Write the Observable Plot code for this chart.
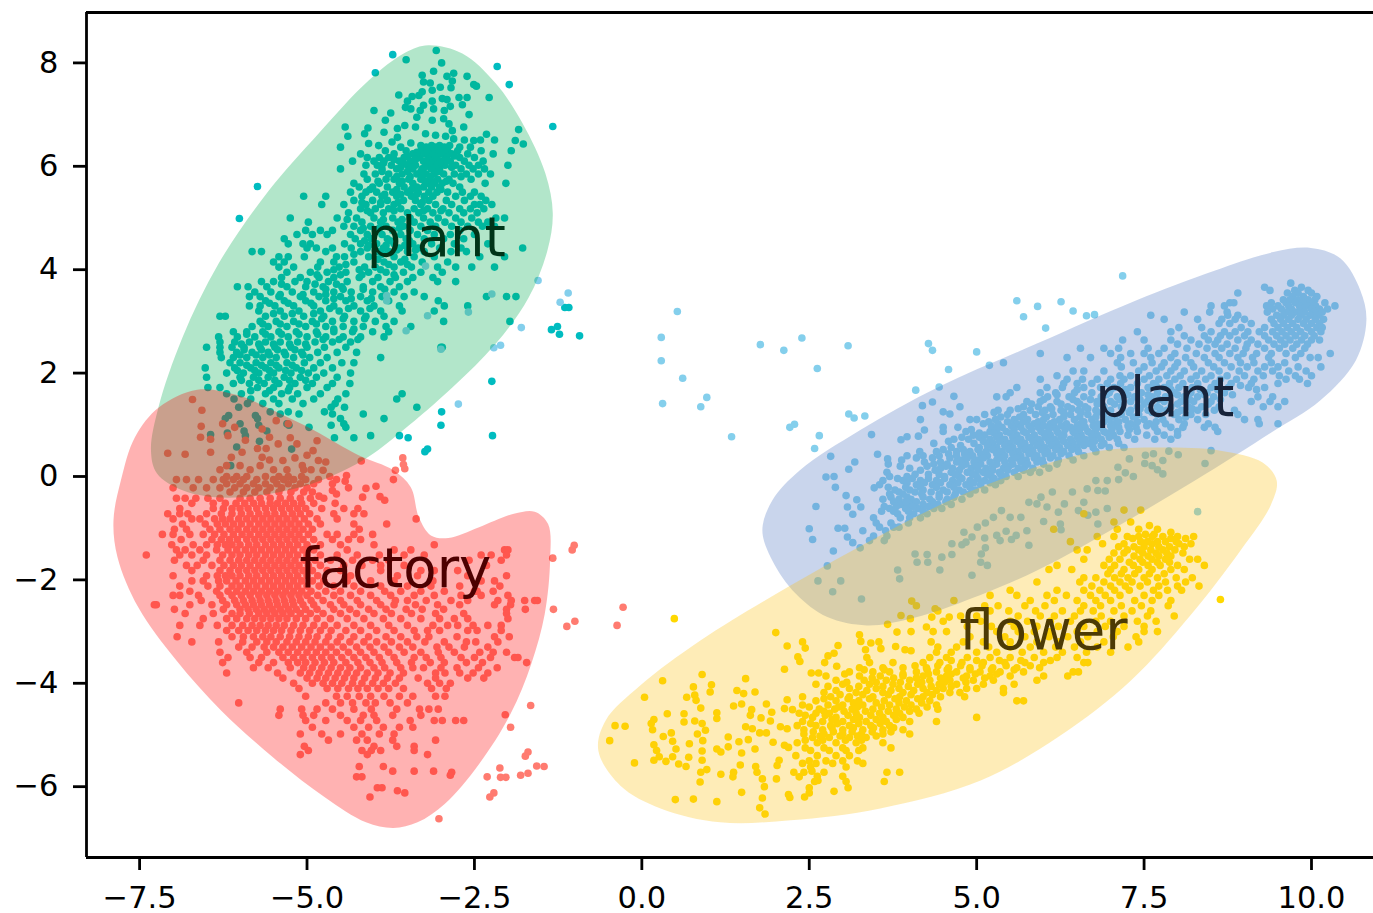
<!DOCTYPE html>
<html><head><meta charset="utf-8">
<script src="https://cdn.jsdelivr.net/npm/d3@7"></script>
<script src="https://cdn.jsdelivr.net/npm/@observablehq/plot@0.6"></script>
<style>html,body{margin:0;padding:0;background:#fff}svg{display:block}</style>
</head><body><div id="chart"></div>
<script>
const xDomain=[-8.293,10.926], yDomain=[-7.37,8.975];
const xTicks=[-7.5,-5,-2.5,0,2.5,5,7.5,10], yTicks=[-6,-4,-2,0,2,4,6,8];
const labels=[["plant",-3.07,4.6],["factory",-3.68,-1.8],["plant",7.81,1.51],["flower",6.0,-3.0]];

const greenBlob=[[-3.19,8.34],[-2.68,8.18],[-2.18,7.6],[-1.78,6.83],[-1.44,5.86],[-1.33,5.09],[-1.41,4.37],[-1.69,3.46],[-2.18,2.57],[-2.83,1.72],[-3.57,.89],[-4.17,.31],[-5.1,-.21],[-6.19,-.41],[-6.85,-.27],[-7.24,.06],[-7.33,.5],[-7.22,1.33],[-6.86,2.69],[-6.32,4.12],[-5.57,5.53],[-4.83,6.63],[-4.08,7.66],[-3.53,8.2]];
const redBlob=[[-6.64,1.68],[-6.03,1.57],[-5.51,1.28],[-4.89,.89],[-4.23,.41],[-3.71,.12],[-3.45,-.21],[-3.33,-.79],[-3.15,-1.14],[-2.89,-1.19],[-2.43,-.98],[-1.91,-.72],[-1.6,-.68],[-1.4,-.92],[-1.37,-1.62],[-1.45,-2.66],[-1.65,-3.62],[-1.96,-4.59],[-2.43,-5.56],[-2.94,-6.33],[-3.35,-6.69],[-3.71,-6.8],[-4.12,-6.69],[-4.74,-6.2],[-5.51,-5.43],[-6.28,-4.53],[-6.95,-3.56],[-7.52,-2.53],[-7.83,-1.56],[-7.89,-.85],[-7.78,-.08],[-7.57,.76],[-7.21,1.34]];
const blueBlob=[[9.99,4.42],[10.43,4.22],[10.73,3.6],[10.82,3.02],[10.66,2.24],[10.13,1.47],[9.4,.85],[8.26,-.08],[7.08,-.98],[5.9,-1.82],[4.72,-2.46],[4.01,-2.75],[3.36,-2.88],[2.77,-2.72],[2.3,-2.27],[1.95,-1.63],[1.8,-1.04],[1.95,-.46],[2.36,.12],[3.25,.89],[4.43,1.73],[5.9,2.57],[7.37,3.4],[8.55,3.98],[9.43,4.34]];
const yellowBlob=[[7.75,.56],[8.64,.5],[9.27,.27],[9.48,-.08],[9.39,-.56],[8.94,-1.43],[8.19,-2.69],[7.3,-3.95],[6.25,-5.01],[5.06,-5.88],[3.56,-6.42],[2.22,-6.65],[1.17,-6.69],[.28,-6.42],[-.32,-5.98],[-.65,-5.3],[-.54,-4.72],[-.02,-4.04],[.88,-3.17],[2.22,-2.11],[3.56,-1.14],[4.76,-.37],[5.95,.21],[6.85,.5]];

// rows: [y, x, x, ...]
const tealRows=[[8.16,-3.72],[7.81,-3.98],[7.93,-2.16],[7.58,-1.98],[6.77,-1.33],[5.61,-5.74],[4.99,-6.01],[2.84,-1.35],[2.9,-1.26],[2.75,-1.23],[2.72,-.93],[3.27,-1.15,-1.09],[1.84,-2.24],[.79,-2.23],[.48,-3.24],
[8.24,-3.07],[8.06,-3.52],[8,-2.99],[7.84,-3.11],[7.76,-3.28],[7.8,-2.81],[7.74,-2.91,-2.61],[7.58,-2.51],[7.55,-2.47],[7.65,-2.83],[7.63,-3.26],[7.61,-3.16],[7.53,-3.01],[7.52,-2.85],[7.44,-3.28],[7.47,-3.13],[7.33,-2.28,-2.73,-2.61],[7.38,-3.63],[7.37,-3.33],[7.35,-3.43],[7.31,-2.98],[7.29,-2.91],[7.26,-3.5,-3.13],[7.19,-2.68],[7.16,-2.86],[7.14,-3.53],[7.11,-3.45,-3.11],[7.18,-3.26],[7.08,-3.31,-4,-2.95],[7.03,-3.75],[7,-2.58],[6.95,-3.36],[6.89,-3.83,-3.13],[6.92,-2.96],[6.82,-2.88],[6.79,-3.54],[6.76,-3.38,-2.66,-4.43],[6.74,-4.09],[6.73,-3.65],[6.71,-1.84],[6.69,-2.83],[6.63,-4.14,-3.23],[6.66,-3.85],[6.62,-2.32],[6.58,-4.39,-2.93],[6.6,-3.08],[6.51,-2.2,-2.41,-2.65],[6.5,-2.51,-1.89],[6.53,-2.81],[6.56,-3.65],[6.45,-3.45],[6.43,-1.77],[6.44,-4.08],[6.4,-3.93,-3.3,-3.14,-3.02,-2.87],[6.47,-3.73],[6.37,-4.5,-3.6,-3.22,-3.08,-2.95,-2.72,-2.56],
[6.3,-3.83,-3.52,-3.3,-3.15,-3.03,-2.9,-2.75,-2.4,-1.95],[6.24,-4.2,-3.7,-3.42,-3.24,-3.1,-2.98,-2.84,-2.6,-2.22],[6.17,-4.1,-3.92,-3.78,-3.55,-3.32,-3.18,-3.06,-2.92,-2.72,-2.5],[6.1,-4.32,-4.0,-3.85,-3.62,-3.46,-3.26,-3.12,-3.0,-2.86,-2.65,-2.37],[6.02,-4.12,-3.95,-3.74,-3.5,-3.38,-3.2,-3.08,-2.94,-2.78,-2.58,-2.44,-2.0],[5.95,-4.5,-3.88,-3.66,-3.42,-3.28,-3.14,-3.02,-2.7,-2.52,-2.35],[5.85,-4.15,-3.98,-3.78,-3.58,-3.36,-3.22,-3.1,-2.96,-2.8,-2.62,-2.44,-2.26],[5.75,-4.1,-3.82,-3.7,-3.48,-3.3,-3.16,-3.05,-2.88,-2.55],[5.67,-4.3,-3.92,-3.62,-3.42,-3.2,-3.1,-2.98,-2.82,-2.34,-2.03],[5.6,-4.22,-4.02,-3.8,-3.55,-3.36,-3.26,-3.14,-3.02,-2.72],[5.5,-4.35,-4.12,-3.96,-3.72,-3.5,-3.34,-3.18,-3.06,-2.9,-2.68,-2.5],[5.42,-5.05,-4.72,-4.18,-3.88,-3.66,-3.44,-3.25,-3.12,-2.78,-2.56,-2.4],[5.34,-4.3,-4.02,-3.8,-3.56,-3.38,-3.18,-2.92,-2.65,-2.33],[5.26,-4.78,-4.45,-4.12,-3.9,-3.7,-3.3,-3.08,-2.84,-2.5,-2.42,-2.24],[5.18,-4.2,-3.98,-3.78,-3.6,-3.4,-3.2,-2.97,-2.72,-2.56,-2.36],[5.1,-4.38,-4.05,-3.86,-3.5,-3.33,-3.12,-2.88,-2.66,-2.46],[5,-5.25,-4.55,-4.26,-4.0,-3.72,-3.46,-3.26,-3.04,-2.78,-2.54,-2.18,-2.05],[4.92,-4.98,-4.18,-3.9,-3.64,-3.4,-3.16,-2.94,-2.7,-2.44,-2.3],[4.84,-4.45,-4.3,-4.05,-3.82,-3.56,-3.3,-3.08,-2.84,-2.6,-2.38,-2.2],[4.76,-5.02,-4.8,-4.62,-4.2,-3.98,-3.72,-3.46,-3.2,-2.72],[4.68,-5.15,-4.92,-4.7,-4.35,-4.1,-3.88,-3.6,-3.35,-3.1,-2.86,-2.5],[4.6,-5.34,-4.28,-4.04,-3.8,-3.52,-3.25,-2.96,-2.66],[4.5,-5.28,-5.06,-4.95,-4.44,-4.2,-3.96,-3.7,-3.42,-3.14,-2.8,-2.3],[4.42,-5.0,-4.86,-4.62,-4.34,-4.1,-3.86,-3.62,-3.34,-3.02,-2.7,-1.78],[4.35,-5.82,-5.68,-4.72,-4.2,-3.95,-3.78,-3.5,-3.25,-2.85,-2.62],[4.25,-5.42,-5.28,-5.04,-4.56,-4.44,-4.08,-3.7,-3.4,-3.1,-2.42,-2.05],[4.15,-5.5,-5.34,-4.8,-4.6,-4.3,-3.85,-3.6,-3.28,-2.9],[4.05,-5.42,-5.2,-4.84,-4.52,-4.14,-3.98,-3.7,-3.44,-3.05,-2.78,-2.54,-2.2],[3.95,-5.3,-4.95,-4.7,-4.42,-4.08,-3.82,-3.56,-3.3,-2.98],[3.85,-5.38,-5.1,-4.82,-4.6,-4.22,-3.94,-3.68,-3.42,-3.12],[3.77,-5.68,-5.5,-5.18,-5.0,-4.68,-4.4,-4.02,-3.76,-3.5,-3.05,-2.78],[3.67,-6.04,-5.88,-5.6,-5.3,-5.02,-4.76,-4.48,-4.16,-3.9,-3.62],[3.57,-5.78,-5.54,-5.22,-4.9,-4.6,-4.34,-4.02,-3.7,-3.4],[3.48,-5.86,-5.7,-5.42,-5.1,-4.82,-4.5,-4.2,-3.88,-3.55,-3.25,-2.32,-2.02,-1.88],[3.4,-5.62,-5.34,-5.02,-4.72,-4.42,-4.1,-3.78,-3.04],[3.3,-5.86,-5.7,-5.48,-5.2,-4.9,-4.6,-4.3,-4.0,-3.62,-2.95,-2.6],[3.2,-5.72,-5.4,-5.12,-4.8,-4.52,-4.2,-3.9,-3.58,-3.1],[3.1,-6.3,-6.22,-5.62,-5.34,-5.05,-4.75,-4.44,-4.12,-3.85],[3.0,-5.7,-5.46,-5.2,-4.92,-4.62,-4.3,-3.98,-3.7,-2.96,-1.97],[2.9,-5.82,-5.58,-5.3,-5.02,-4.72,-4.46,-4.16,-3.82,-3.45],[2.8,-6.1,-5.9,-5.66,-5.42,-5.16,-4.86,-4.6,-4.32,-4.02,-3.78],[2.7,-6.32,-6.04,-5.78,-5.54,-5.28,-5,-4.72,-4.46,-4.2,-3.85],[2.6,-6.3,-6.08,-5.86,-5.62,-5.4,-5.14,-4.88,-4.62,-4.35],[2.5,-6.5,-6.3,-6.12,-5.94,-5.7,-5.48,-5.24,-5,-4.74,-4.42,-3.0,-2.98],[2.4,-6.3,-6.05,-5.82,-5.58,-5.34,-5.08,-4.84,-4.55,-4.26],[2.3,-6.28,-6.1,-5.9,-5.66,-5.46,-5.2,-4.96,-4.7,-3.9],[2.2,-6.15,-6.0,-5.76,-5.54,-5.3,-5.04,-4.8,-4.48,-4.3],[2.1,-6.52,-6.08,-5.84,-5.62,-5.42,-5.16,-4.9,-4.62],[2,-6.2,-5.95,-5.72,-5.5,-5.24,-4.98,-4.75,-4.35],[1.92,-6.5,-6.0,-5.8,-5.58,-5.34,-5.1,-4.86,-4.55],[1.8,-6.1,-5.86,-5.64,-5.42,-5.18,-4.92,-4.62,-4.36],[1.72,-6.48,-6.3,-5.74,-5.5,-5.26,-5.0,-4.7],[1.6,-6.2,-5.98,-5.62,-5.38,-5.14,-4.8,-4.42,-3.58],[1.5,-6.09,-5.84,-5.5,-5.22,-4.9,-4.54,-3.66],[1.41,-5.89,-5.66,-5.42,-5.06,-4.58],[1.34,-6.02,-4.64,-4.44,-3.36],[1.25,-5.55,-5.28,-4.74,-2.99],[1.21,-5.4,-5.12,-4.62,-4.16],[1.18,-6.17,-5.77],[1.12,-6.22,-5.74,-4.5,-3.85],[1.02,-6,-5.3,-4.45],[.99,-5.72,-5.27,-4.64,-3.0],[.95,-4.97,-4.42],[.88,-5.94,-5.6],[.84,-6.19],[.81,-6.44],[.79,-5.92,-4.05,-3.62],[.75,-4.59,-4.3,-3.49],[.68,-5.71],[.57,-6.05],[.53,-5.23,-3.2],[.21,-6.14],
[6.27,-3.36,-3.2,-3.0],[6.2,-3.5,-3.38,-3.12,-2.8],[6.13,-3.7,-3.38,-3.18,-3.06,-2.94],[6.06,-3.86,-3.56,-3.14,-3.02],[5.98,-3.6,-3.44,-3.24,-3.08,-2.84],[5.9,-3.88,-3.5,-3.3,-3.04],[5.8,-3.66,-3.46,-3.28,-3.16,-2.7],[5.71,-3.94,-3.58,-3.24,-2.92],[5.55,-4.06,-3.66,-3.44,-3.0],[5.46,-3.84,-3.6,-3.36],[5.3,-4.18,-3.9,-3.64,-3.28],[5.14,-4.1,-3.7,-3.26,-3.0],[4.97,-4.4,-3.86,-3.58],[4.8,-4.16,-3.92,-3.62],[4.47,-4.08,-3.82,-3.54],[4.3,-4.3,-3.88],[4.1,-4.42,-3.78,-3.5],[3.72,-5.38,-4.88,-4.56],[3.52,-5.4,-5.06,-4.72],[3.35,-5.56,-5.28,-4.94],[3.15,-5.5,-5.22,-4.9],[2.95,-5.66,-5.4,-5.12,-4.86],[2.75,-5.9,-5.62,-5.38,-5.12,-4.84],[2.56,-5.98,-5.72,-5.5,-5.26,-5.02],[2.45,-5.94,-5.68,-5.44,-5.18],[2.35,-6.0,-5.76,-5.56,-5.32,-5.06],[2.15,-5.9,-5.68,-5.46,-5.22],[2.05,-6.04,-5.78,-5.56,-5.32,-5.08],[1.86,-5.98,-5.72,-5.48,-5.26,-5.02],[1.66,-5.84,-5.56,-5.28],
[4.56,-4.14,-3.76,-3.47],[4.38,-3.98,-3.66,-3.38],[4.2,-3.94,-3.54],[4.0,-4.6,-4.22,-3.9],[3.9,-4.85,-4.5,-4.18,-3.7],[3.62,-4.72,-4.46,-4.16,-3.84],[3.44,-4.6,-4.34,-4.04],[3.25,-4.66,-4.38,-4.06],[3.05,-4.78,-4.46,-4.14],[2.85,-4.6,-4.3],[2.65,-4.76,-4.52,-4.24]];

const blueRows=[[3.4,5.6],[3.29,5.91],[3.38,6.26],[3.2,6.44],[3.09,5.7],[2.87,6.03],[3.11,6.64],[3.13,6.76],[3.88,7.18],[2.55,1.77],[2.44,2.12],[2.68,2.39],[2.09,2.62],[2.53,3.08],[2.57,4.28],[2.44,4.34],[2.41,5],[2.07,4.58],[2.15,5.19],[1.67,4.09],[1.21,3.09],[1.13,3.17],[1.17,3.33],[.95,2.21],[1.01,2.28],[.79,2.65],[.54,2.58],[3.19,.53],[2.69,.29],[2.24,.29],[1.9,.61],[1.53,.97],[1.35,.88],[1.41,.31],[.77,1.34],
[3.79,-1.55],[3.55,-1.1],[3.37,-1.22],[2.88,-1.8],[2.54,-2.11],[2.49,-2.21],[1.4,-2.74],[4.07,-3.23],[3.53,-2.24],[3.18,-2.59],[3.11,-3.2],[2.82,-3.52],[2.46,-3],[3.5,-3.81],[3.4,-3.81],
[3.74,9.69],[3.66,9.85,9.3],[3.6,9.38,9.75,9.95],[3.55,8.9,9.64,9.8,10.0],[3.48,9.72,9.88,10.08],[3.42,9.58,9.68,9.8,9.95,10.05],[3.36,8.78,8.84,9.4,9.62,9.76,9.88,10.0,10.2],[3.3,8.5,8.7,9.33,9.5,9.66,9.82,9.94,10.06,10.35],[3.24,9.42,9.55,9.7,9.85,10.0,10.12,10.24],[3.18,8.1,8.48,8.74,9.34,9.62,9.76,9.9,10.04,10.16],[3.12,7.6,8.75,8.9,9.48,9.58,9.7,9.84,9.98,10.1],[3.04,7.8,8.3,8.66,8.86,9.0,9.4,9.54,9.66,9.8,9.92,10.06,10.18],[2.96,8.62,8.78,9.1,9.44,9.58,9.72,9.88,10.0,10.12],[2.88,8.36,8.02,8.95,9.3,9.5,9.64,9.78,9.94,10.08,10.16],[2.8,7.4,7.9,8.5,8.7,8.86,9.05,9.22,9.42,9.56,9.7,9.84,10.0,10.14],[2.72,8.1,8.4,8.64,8.78,9.0,9.3,9.48,9.62,9.76,9.9,10.04],[2.64,7.18,7.5,7.9,8.2,8.46,8.6,8.9,9.1,9.36,9.54,9.68,9.85,10.0,10.12],[2.56,8.0,8.32,8.56,8.74,9.04,9.2,9.44,9.6,9.78,9.94],[2.48,6.55,6.9,7.12,7.56,7.8,8.14,8.44,8.66,8.86,9.02,9.3,9.52,9.72,9.9],[2.38,5.95,7.0,7.3,7.5,7.72,7.96,8.28,8.56,8.78,8.98,9.18,9.4,9.62,9.84,10.28],[2.3,6.35,6.7,7.15,7.6,7.9,8.12,8.4,8.62,8.9,9.12,9.36,9.76,9.98,10.1],[2.2,5.4,7.1,7.34,7.62,7.8,8.0,8.2,8.46,8.7,8.94,9.14,9.4,9.6],[2.12,7.16,7.5,7.76,7.96,8.24,8.54,8.8,9.04,9.3,9.5,9.8,10.14],[2.04,6.44,6.6,6.9,7.42,7.68,7.9,8.1,8.36,8.62,8.92,9.2,9.42,9.66,9.92],[1.95,6.2,7.14,7.3,7.58,7.84,8.04,8.28,8.5,8.74,9.0,9.28,9.52,9.76,10.0],[1.88,5.95,6.35,6.58,6.8,7.0,7.2,7.5,7.72,7.96,8.2,8.42,8.64,8.88,9.14,9.62,9.82],[1.8,6.3,6.5,6.72,6.95,7.15,7.4,7.64,7.88,8.08,8.3,8.56,8.8,9.1,9.5,9.94],[1.72,5.6,6.05,6.28,6.6,6.85,7.05,7.3,7.56,7.8,8.02,8.22,8.5,8.76,9.06,9.3],[1.62,5.5,5.95,6.18,6.46,6.72,6.98,7.2,7.46,7.7,7.95,8.2,8.44,8.7],[1.54,5.3,5.44,6.06,6.38,6.6,6.86,7.1,7.36,7.62,7.82,8.1,8.3,8.54,9.2,9.42],[1.45,5.75,5.95,6.2,6.5,6.8,7.0,7.3,7.55,7.8,8.05,8.24,8.5,9.1,9.38,9.6],[1.35,4.75,5.7,5.92,6.1,6.36,6.62,6.9,7.16,7.4,7.7,7.9,8.16,8.36,8.62,9.28,9.5],[1.28,5.32,5.5,5.8,6.02,6.26,6.52,6.78,7.0,7.3,7.56,7.84,8.06,8.3,8.55,8.85],[1.2,5.12,5.46,5.7,5.88,6.14,6.4,6.66,6.9,7.16,7.42,7.7,7.95,8.2,8.42,8.9],[1.1,4.9,5.0,5.28,5.56,5.76,6.0,6.24,6.46,6.72,6.98,7.22,7.5,7.78,8.02,8.3,9.0,9.2],[1.02,5.1,5.32,5.6,5.86,6.1,6.34,6.55,6.8,7.06,7.3,7.58,7.82,8.1,8.46,9.22,9.5],[.95,4.5,4.72,5.38,5.66,5.92,6.16,6.4,6.62,6.86,7.12,7.38,7.66,7.9,8.08,8.4,8.56],[.87,4.5,4.84,5.2,5.44,5.7,5.96,6.2,6.44,6.66,6.9,7.14,7.4,7.7,8.0,8.6],[.8,4.95,5.12,5.34,5.6,5.86,6.1,6.3,6.56,6.8,7.04,7.26,7.54,7.8,8.0],[.72,4.66,4.88,5.2,5.42,5.66,5.92,6.16,6.4,6.62,6.86,7.1,7.36,7.66,7.9],[.64,4.36,4.96,5.24,5.5,5.72,5.96,6.2,6.44,6.68,6.9,7.12],[.56,4.62,5.04,5.3,5.54,5.8,6.02,6.24,6.5,6.74,6.98,7.2],[.48,4.15,4.4,4.7,4.9,5.14,5.38,5.62,5.84,6.06,6.3,6.52,6.78],[.4,3.96,4.2,4.44,4.7,4.94,5.16,5.42,5.66,5.9,6.14,6.38,6.6],[.32,3.88,4.78,5.02,5.3,5.52,5.74,5.98,6.22,6.44],[.24,3.68,4.36,4.56,4.84,5.06,5.3,5.54,5.76,6.0,6.2],[.16,4.0,4.46,4.64,4.92,5.14,5.4,5.62,5.84,6.08],[.08,3.66,4.62,4.86,5.1,5.34,5.56,5.8,5.94],[0,3.7,3.96,4.52,4.74,5.0,5.22,5.44,5.62],[-.08,3.6,3.9,4.16,4.4,4.64,4.9,5.12,5.36],[-.16,3.55,4.1,4.34,4.6,4.84,5.06,5.28],[-.26,3.78,4.0,4.2,4.5,4.74,4.98,5.12],[-.34,3.7,3.9,4.18,4.44,4.68,4.9],[-.44,3.6,3.84,4.02,4.3,4.56,4.78],[-.54,3.86,4.0,4.2,4.42,4.62],[-.62,3.7,3.94,4.12,4.36,4.48],[-.72,3.82,4.06,4.26],[-.8,3.46,3.86,4.0,4.16],[-.9,3.5,3.72,3.98],[-.98,3.55,3.76,3.84],[-1.05,3.3,3.64],[-1.15,3.46,3.66],[-1.24,3.4,3.62],
[-.58,2.6],[-1.01,2.5],[-1.22,2.55],[-1.44,2.86],[-1.73,2.77],[-2.02,2.63,2.97],[-2.23,2.85],[-1.38,3.26],[-1.28,3.15],[-1.17,3.07],[-1,2.93,3.03],[-.59,3.07,3.27],[-.73,3.15],[-.45,3.21],[-.37,3.05],[-.22,3.47],[-.21,2.89],[-.01,2.75],[0,2.87],[.14,3.09],[.28,3.18],[.39,2.82],[.43,3.52],[.34,3.67],[.81,3.43],[.71,3.87],[.77,3.96],[.78,4.13],[.9,4.22],[1.1,4.16],[1.37,4.19],[1.44,4.34],[1.73,4.44],[1.55,4.66],[1.25,4.5],[1.21,4.6],
[-1.81,3.82],[-1.98,3.85],[-1.66,4.11,4.27,5.06],[-1.51,4.26,4.63],[-1.5,4.08,5.07],[-2.37,3.28],[-1.81,4.45],[-1.56,4.48],[-1.3,4.63],[-1.32,4.78],[-1.17,4.93],[-1.27,4.84],[-1.19,5.12],[-1.38,5.13],[-1.72,5.16],[-1.91,4.93],[-1.24,5.35],[-1.06,5.44],[-1.22,5.52],[-1.14,5.59,5.3],[-1.05,5.75],[-1.33,5.78],[-.79,5.25,5.66,5.5],[-.9,5.13],[-.98,5.01],[-1.08,4.81],[-.87,6.0],[-.92,6.25,6.81],[-1.03,6.26],[-.66,5.37,6.52],[-.5,5.78,6.6],[-.53,5.9,6.31],[-.59,6.05],[-.69,6.22,6.78],[-.75,6.66],[-.62,6.95],[-.4,5.96],[-.3,6.13,6.43],[-.27,6.81],[-.28,6.92],[-.24,6.65],[-.08,6.95,6.78],[-.06,7.12],[0,7.34],[.07,7.22],[.18,7.11],[.25,7.51,8.41],[.21,7.62],[.13,7.7],[.05,7.78],[.31,7.78],[.42,8.01],[.5,8.5],[.49,7.87],[.44,7.64],[.41,7.52],[.34,7.28],[-.68,8.3],
[1.76,7.68,8.3,8.62,8.94],[1.68,6.5,7.0,7.22,7.9,8.34,8.6,9.18],[1.58,6.2,6.94,7.26,7.56,8.0,8.4,8.82],[1.49,6.0,6.44,6.7,7.14,7.44,7.72,8.18,8.64],[1.4,5.82,6.26,6.54,6.8,7.06,7.5,8.0,8.46],[1.31,5.62,6.12,6.42,6.66,7.18,7.44,7.74,8.22],[1.24,5.26,5.98,6.3,6.56,6.8,7.28,7.62,8.0],[1.15,5.36,5.64,6.04,6.3,6.54,6.78,7.06,7.34,8.12],[1.06,5.18,5.46,5.7,5.92,6.16,6.6,6.9,7.12,7.4,7.68],[.98,5.22,5.52,5.78,6.0,6.26,6.5,6.74,7.0,7.26,7.54],[.91,4.92,5.3,5.56,5.82,6.08,6.32,6.54,6.78,7.02,7.28],[.84,5.04,5.26,5.5,5.74,6.0,6.22,6.46,6.7,6.94],[.76,4.78,5.04,5.3,5.54,5.78,6.02,6.26,6.5,6.72,6.98],[.68,4.58,5.1,5.34,5.6,5.84,6.08,6.3,6.54,6.76],[.6,4.76,5.16,5.42,5.66,5.9,6.12,6.36,6.6,6.86],[.52,4.5,4.8,5.02,5.24,5.48,5.72,5.96,6.18,6.42],[.44,4.58,4.82,5.06,5.3,5.54,5.78,6.02,6.26],[.36,4.1,4.34,4.6,4.86,5.1,5.36,5.6,5.86,6.1],[.28,4.22,4.46,4.7,4.96,5.2,5.42,5.66,5.9],[.2,3.86,4.26,4.54,4.78,5.0,5.24,5.48,5.72],[.12,4.16,4.38,4.74,5.02,5.24,5.46,5.7],[.04,4.08,4.28,4.44,4.68,4.94,5.16,5.36],[-.04,3.82,4.04,4.28,4.52,4.78,5.02,5.26],[-.12,3.96,4.22,4.46,4.72,4.96,5.2],[-.21,3.68,3.94,4.16,4.4,4.66,4.9],[-.3,3.84,4.08,4.32,4.56,4.8],[-.4,3.72,3.96,4.2,4.44,4.66],[-.49,3.76,3.94,4.1,4.34,4.54],[-.58,3.62,3.8,4.04,4.28],[-.67,3.58,3.76,3.98,4.2]];

const redRows=[[1.49,-6.71],[1.28,-6.57],[.97,-6.58],[1.02,-6.26],[.95,-6.08],[.76,-6.59],[.72,-6.44],[.79,-6.18],[.7,-5.92],[.45,-7.08],[.43,-6.82],[.47,-6.44,-5.97],[.37,-6.13,-5.67],[.54,-5.74,-5.61],[.32,-5.56],[.31,-5.36],[1.08,-5.46],[1.02,-5.28],[.92,-5.67],[.76,-5.56],[.63,-5.43,-5.15],[.75,-5.25],[.69,-4.85],[.5,-4.91],[.36,-5.18],[.41,-5],[.31,-4.83],[.28,-4.72],[.3,-4.19],[.21,-5.07,-6.2,-6.0,-5.7],[.13,-4.94,-6.3,-5.85,-5.5,-5.3,-5.05],[.12,-4.76,-3.68],[.36,-3.57],[.23,-3.56],[.15,-3.54],[0,-4.66,-6.2,-6.05,-5.9,-5.62,-5.42,-5.28,-5.08],[-.06,-4.83,-4.56,-3.71,-6.95,-6.8,-6.62,-6.4,-6.25,-6.1,-5.95,-5.75,-5.5,-5.35,-5.2,-5.02],[.02,-4.41],[-.22,-7.0,-6.7,-6.5,-6.3,-6.08,-5.9,-5.72,-5.55,-5.38,-5.18,-5.0,-4.38],[-.14,-6.2,-6.0,-5.8,-5.62,-5.45,-5.28,-5.1,-4.9,-4.62],[-.09,-4.43],[-.23,-4.12],[-.19,-3.97],[-.4,-4.17],[-.39,-3.91],[-.46,-3.84],[-.27,-4.62],[-.34,-4.56],[-.38,-4.82],[-.3,-6.15,-5.95,-5.78,-5.6,-5.42,-5.24,-5.05,-4.92],
[-.42,-6.95,-6.82,-6.66,-6.48,-6.3,-6.0,-5.85,-5.7,-5.55,-5.4,-5.25,-5.1,-4.95,-4.75],[-.52,-6.72,-6.4,-6.22,-6.06,-5.93,-5.8,-5.68,-5.55,-5.44,-5.32,-5.2,-5.08,-4.9,-4.58],[-.62,-6.9,-6.4,-6.25,-6.12,-6.0,-5.88,-5.75,-5.62,-5.5,-5.38,-5.26,-5.14,-5.02,-4.78,-4.45,-4.24],[-.72,-7.08,-6.9,-6.78,-6.5,-6.28,-6.12,-5.98,-5.85,-5.72,-5.6,-5.48,-5.35,-5.22,-5.1,-4.96,-4.6,-4.3,-4.15],[-.82,-7.0,-6.72,-6.6,-6.38,-6.26,-6.15,-6.02,-5.9,-5.78,-5.66,-5.54,-5.42,-5.3,-5.18,-5.04,-4.85,-4.55,-3.37],[-.92,-6.86,-6.52,-6.34,-6.22,-6.1,-5.98,-5.85,-5.72,-5.6,-5.48,-5.36,-5.24,-5.12,-4.98,-4.8,-3.81,-4.3],[-1.02,-6.98,-6.8,-6.45,-6.3,-6.15,-6.03,-5.9,-5.78,-5.66,-5.54,-5.42,-5.3,-5.18,-5.06,-4.92,-4.22],[-1.12,-7.16,-7.0,-6.75,-6.55,-6.38,-6.24,-6.1,-5.97,-5.85,-5.72,-5.6,-5.48,-5.36,-5.24,-5.12,-4.98,-4.7,-4.55,-4.3,-4.02],[-1.22,-6.88,-6.42,-6.28,-6.16,-6.04,-5.9,-5.78,-5.66,-5.54,-5.42,-5.3,-5.18,-5.06,-4.9,-4.62,-4.38,-4.2],[-1.32,-7.02,-6.7,-6.5,-6.34,-6.22,-6.12,-6.0,-5.87,-5.75,-5.62,-5.5,-5.38,-5.26,-5.14,-5.0,-4.8,-4.5,-3.1,-4.0],[-1.42,-6.95,-6.82,-6.6,-6.35,-6.18,-6.05,-5.92,-5.8,-5.68,-5.56,-5.44,-5.32,-5.2,-5.06,-4.9,-4.4,-3.7,-3.45,-2.05,-2.0],[-1.52,-7.4,-6.9,-6.72,-6.5,-6.26,-6.12,-6.0,-5.87,-5.75,-5.62,-5.5,-5.38,-5.26,-5.14,-5.0,-4.8,-4.55,-4.25,-3.92,-3.55,-3.25,-2.4,-2.25,-2.02],[-1.58,-1.33],[-1.42,-1.04],[-1.33,-1.01],[-1.62,-6.98,-6.55,-6.3,-6.15,-6.02,-5.9,-5.78,-5.66,-5.54,-5.42,-5.3,-5.18,-5.04,-4.88,-4.65,-4.32,-4.02,-3.78,-2.58,-2.1],[-1.72,-6.8,-6.64,-6.42,-6.24,-6.1,-5.98,-5.85,-5.72,-5.6,-5.48,-5.36,-5.24,-5.12,-4.98,-4.8,-4.45,-4.18,-3.9,-3.55,-2.32],[-1.82,-6.72,-6.3,-6.15,-6.02,-5.9,-5.78,-5.66,-5.54,-5.42,-5.3,-5.18,-5.06,-4.92,-4.7,-4.5,-3.9,-3.1,-3.3,-2.75],[-1.92,-7.0,-6.5,-6.34,-6.22,-6.12,-6.0,-5.87,-5.75,-5.62,-5.5,-5.38,-5.26,-5.14,-5.0,-4.84,-4.35,-3.65,-3.35,-2.02,-2.6],[-2.02,-6.72,-6.55,-6.32,-6.2,-6.06,-5.92,-5.8,-5.68,-5.56,-5.44,-5.32,-5.2,-5.08,-4.92,-4.75,-4.4,-4.05,-3.7,-3.12,-2.4,-2.2],[-2.12,-6.9,-6.48,-6.3,-6.12,-6.0,-5.87,-5.75,-5.62,-5.5,-5.38,-5.26,-5.14,-5.0,-4.82,-4.6,-4.3,-3.9,-3.5,-3.15,-2.72,-2.12],[-2.22,-6.75,-6.35,-6.18,-6.05,-5.92,-5.8,-5.68,-5.56,-5.44,-5.32,-5.2,-5.08,-4.94,-4.72,-4.5,-4.2,-3.84,-3.6,-3.3,-2.95,-2.46,-2.22,-2.5],[-2.3,-7.0,-6.9,-6.62,-6.3,-6.12,-5.98,-5.85,-5.72,-5.6,-5.48,-5.36,-5.24,-5.12,-5,-4.84,-4.6,-4.35,-4.05,-3.75,-3.4,-3.1,-2.7,-2.4,-2.0],[-2.4,-6.58,-6.26,-6.08,-5.95,-5.82,-5.7,-5.58,-5.46,-5.34,-5.22,-5.1,-4.94,-4.76,-4.5,-4.25,-3.96,-3.68,-3.5,-3.22,-2.85,-2.6,-2.15,-1.95,-1.75,-1.6,-1.56],[-2.48,-7.25,-7.28,-6.75,-6.42,-6.2,-6.05,-5.92,-5.8,-5.68,-5.56,-5.44,-5.32,-5.2,-5.06,-4.9,-4.65,-4.45,-4.2,-3.9,-3.7,-3.38,-3.05,-2.72,-2.2,-1.96],[-2.57,-6.98,-6.25,-6.0,-5.88,-5.76,-5.64,-5.52,-5.4,-5.28,-5.16,-5.02,-4.85,-4.6,-4.36,-4.08,-3.82,-3.52,-3.28,-2.96,-1.32,-2.02,-1.74],[-2.53,-.28],[-2.65,-6.82,-6.4,-6.12,-6.0,-5.86,-5.72,-5.6,-5.48,-5.36,-5.24,-5.1,-4.95,-4.76,-4.5,-4.26,-4.0,-3.74,-3.44,-3.08,-2.66,-2.02],[-2.75,-6.55,-6.2,-6.05,-5.9,-5.78,-5.66,-5.54,-5.42,-5.3,-5.16,-5.02,-4.85,-4.65,-4.4,-4.15,-3.86,-3.6,-3.3,-3.02,-2.8,-2.6,-2.0],[-2.88,-6.9,-6.6,-6.34,-6.12,-5.96,-5.82,-5.7,-5.58,-5.46,-5.34,-5.2,-5.06,-4.9,-4.74,-4.55,-4.3,-4.05,-3.78,-3.5,-3.12,-2.9,-2.75,-2.52,-2.3,-2.1,-.37],[-2.8,-1.0],[-2.9,-1.12],[-2.98,-6.2,-6.02,-5.88,-5.75,-5.62,-5.5,-5.38,-5.24,-5.1,-4.96,-4.8,-4.64,-4.42,-4.2,-3.96,-3.7,-3.4,-3.2,-3.02,-2.6,-2.46,-2.1],[-3.1,-6.94,-6.12,-5.95,-5.8,-5.66,-5.54,-5.4,-5.26,-5.12,-4.98,-4.85,-4.68,-4.5,-4.3,-4.08,-3.82,-3.6,-3.36,-3.18,-2.76,-2.2,-1.98],[-3.2,-6.72,-6.32,-5.96,-5.75,-5.6,-5.46,-5.3,-5.16,-5.02,-4.88,-4.72,-4.55,-4.36,-4.15,-3.96,-3.74,-3.5,-3.24,-2.95,-2.62,-2.48,-2.15],[-3.3,-6.02,-5.82,-5.64,-5.5,-5.36,-5.22,-5.08,-4.94,-4.8,-4.64,-4.46,-4.26,-4.06,-3.85,-3.62,-3.42,-3.06,-2.88,-2.65,-2.3],[-3.4,-6.3,-5.9,-5.6,-5.42,-5.28,-5.14,-5,-4.86,-4.72,-4.56,-4.38,-4.2,-4,-3.78,-3.55,-3.3,-3.04,-2.8,-2.42,-2.22,-2.02],[-3.5,-6.18,-5.85,-5.68,-5.36,-5.2,-5.06,-4.92,-4.78,-4.64,-4.48,-4.3,-4.12,-3.92,-3.7,-3.4,-3.22,-3.0,-2.7,-2.5,-2.26,-1.9,-1.85],[-3.6,-6.26,-5.72,-5.5,-5.28,-5.14,-5.02,-4.88,-4.74,-4.6,-4.42,-4.24,-4.06,-3.88,-3.66,-3.44,-3.16,-2.95,-2.62,-2.38,-1.72],[-3.7,-5.8,-5.58,-5.25,-5.05,-4.92,-4.78,-4.64,-4.5,-4.36,-4.2,-4.0,-3.84,-3.6,-3.42,-3.26,-3.0,-2.76,-2.44,-2.16],[-3.8,-6.2,-5.44,-5.1,-4.96,-4.82,-4.68,-4.54,-4.4,-4.26,-4.1,-3.94,-3.76,-3.56,-3.08,-2.94,-2.72,-2.52,-2.3],[-3.9,-5.36,-5.0,-4.85,-4.72,-4.58,-4.44,-4.3,-4.14,-3.98,-3.8,-3.62,-3.34,-3.08,-2.6,-2.36],[-4.0,-5.2,-4.92,-4.76,-4.62,-4.48,-4.32,-4.18,-4.02,-3.86,-3.68,-3.2,-3.02,-2.86],[-4.1,-5.12,-4.7,-4.54,-4.38,-4.24,-4.1,-3.94,-3.78,-3.56,-3.14,-2.92],[-4.25,-5.02,-4.56,-4.4,-4.22,-4.05,-3.85,-3.62,-3.42,-3.08,-2.94],[-4.38,-6.02,-4.72,-4.5,-4.32,-4.12,-3.98,-3.76,-3.5],[-4.43,-1.66],[-4.5,-5.4,-5.08,-4.85,-4.62,-4.3,-4.04,-3.66,-3.32,-3.18,-3.04],[-4.62,-5.42,-5.06,-4.9,-4.5,-4.16,-4,-3.72,-3.3],[-4.61,-2.04],[-4.72,-5.02,-4.72,-4.4,-4.2,-3.96,-3.46,-3.1,-2.98,-2.78,-2.66],[-4.85,-4.92,-4.3,-4.08,-3.86,-3.62,-3.42,-1.96],[-4.98,-5.1,-4.78,-4.5,-4.18,-3.92,-3.7],[-5.1,-4.68,-4.26,-4.1,-3.72,-3.08],[-5.22,-5.04,-4.0,-3.66,-3.4],[-5.3,-4.98,-4.18,-4.04,-3.9,-3.4],[-5.33,-1.7],[-5.41,-1.74],[-5.38,-5.1,-4.1,-3.2],[-5.6,-1.57],[-5.61,-1.46,-4.22,-3.86],[-5.64,-2.12],[-5.7,-3.72,-3.4,-3.11],[-5.74,-1.7],[-5.78,-1.81],[-5.72,-2.84],[-5.78,-2.86],[-5.81,-2.31,-4.26,-4.18],[-5.82,-2.11,-2.03],[-6.02,-3.95,-3.88],[-6.08,-3.65],[-6.12,-2.21,-3.54],[-6.2,-2.27,-4.06],[-6.62,-3.03]];

const yellowRows=[[-2.75,.485],[-2.38,8.64],[-.65,7.2,7.45],[-.72,6.6],[-.88,7.05,7.3],[-.95,7.58],[-1.02,6.15,7.1,7.42,7.7],[-1.08,7.9],[-1.12,7.52,7.65],[-1.16,6.8,7.05,7.25,7.42,7.62,7.78,8.0,8.24],[-1.2,7.33,7.9,8.12],[-1.26,6.4,7.45,7.55,7.7,7.82,7.98],[-1.3,6.88,7.2,7.62,8.02,8.2],[-1.36,7.12,7.35,7.5,7.72,7.88,8.1],[-1.42,6.5,6.65,7.25,7.42,7.6,7.78,7.96],[-1.48,7.05,7.2,7.48,7.68,7.84,8.08],[-1.54,7.35,7.56,7.72,7.9],[-1.6,6.6,6.98,7.14,7.44,7.62,7.82,8.18,8.3],[-1.66,7.28,7.48,7.7,7.88],[-1.72,6.2,6.9,7.06,7.34,7.56,7.74,8.0,8.4],[-1.8,6.08,6.42,7.0,7.2,7.42,7.62,7.9,8.1],[-1.88,6.96,7.16,7.36,7.58,7.8],[-1.96,6.6,6.78,7.06,7.26,7.5,7.7,7.98,8.22],[-2.04,5.9,6.54,6.9,7.14,7.32,7.55,7.82,8.12],[-2.12,6.72,7.0,7.22,7.44,7.72,8.0,8.32],[-2.2,5.5,6.2,6.6,6.84,7.06,7.28,7.64,7.85,8.06],[-2.3,5.2,5.6,6.05,6.34,6.7,6.92,7.14,7.5,7.72],[-2.4,4.66,5.8,6.16,6.5,6.78,7.0,7.36,7.62,7.9],[-2.5,4.1,5.12,5.32,5.72,6.02,6.6,6.85,7.16,7.46,7.86],[-2.6,4.42,5.2,5.48,5.88,6.28,6.55,6.74,7.05,7.32,7.6],[-2.7,4.76,5.0,5.62,5.95,6.16,6.46,6.86,7.2,7.55,7.95],[-2.8,4.5,5.06,5.5,5.76,6.1,6.4,6.78,7.0,7.4,7.68],[-2.9,4.86,5.22,5.56,5.9,6.22,6.6,6.92,7.2,7.5],[-3,4.55,5.3,5.62,5.86,6.1,6.5,6.8,7.1,7.5,7.7],[-3.1,4.9,5.42,5.72,6.08,6.36,6.66,7.04,7.38],[-3.2,4.32,4.8,5.1,5.5,5.9,6.22,6.55,6.9,7.42],[-3.3,4.42,4.7,5.18,5.5,5.8,6.18,6.46,6.8,7.26],[-3.4,4.4,4.62,5.0,5.3,5.68,6.0,6.28,6.64,7.0],[-3.5,3.36,4.3,4.55,4.86,5.2,5.5,5.86,6.2,6.5],[-3.6,3.4,3.75,4.2,4.45,4.78,5.1,5.42,5.72,6.0,6.6,6.66],[-3.7,3.25,3.6,3.9,4.25,4.58,4.9,5.24,5.6,5.94],[-3.78,3.1,3.45,3.7,4.1,4.4,4.7,5.05,5.35,5.7,6.44,6.52],[-3.86,2.75,3.25,3.56,3.9,4.2,4.55,4.85,5.2,5.5,6.0,6.36],[-3.94,2.9,3.32,3.65,4.0,4.3,4.6,4.95,5.25,5.9],[-4.02,2.6,3.0,3.4,3.75,4.12,4.44,4.7,5.1,5.56],[-4.1,3.1,3.5,3.84,4.2,4.5,4.85,5.0,5.4],[-4.18,2.72,3.2,3.6,3.9,4.26,4.6,4.75,5.4],[-4.26,2.4,2.82,3.1,3.45,3.85,4.2,4.46,4.82],[-4.34,2.6,2.9,3.24,3.62,3.95,4.3,5.6,5.7],[-4.42,2.4,2.78,3.0,3.3,3.7,4.02,4.4],[-4.5,2.65,2.88,3.14,3.45,3.8,4.1,4.42],[-4.58,2.35,2.6,2.8,3.2,3.55,3.85,4.14],[-4.66,2.55,2.9,3.25,3.6,3.9,5.0],[-4.74,2.4,2.7,3.0,3.35,3.65,4.0,4.4],[-4.82,2.32,2.6,2.82,3.1,3.42,3.7],[-4.9,2.42,2.7,3.0,3.3,3.6,3.9],[-4.98,2.42,2.72,3.0,3.28,3.6,4.0],[-5.05,2.55,2.8,3.1,3.35],[-5.15,2.32,2.62,2.9,3.2,3.6],[-5.25,2.44,2.72,3.0,3.3,3.72],[-5.3,2.52,2.8,3.05,3.24],[-5.4,2.3,2.62,2.9,3.1],[-5.5,2.5,2.75,3.0,3.22],[-5.55,2.4,2.6,2.85,3.3],[-5.62,2.52,3.05],[-5.72,2.42,2.72,3.66,3.85],[-5.8,2.62,3.0],[-5.9,2.58,3.05,3.62],[-6.02,2.5,3.08],
[-3.02,2],[-3.28,2.17],[-3.2,2.4,3.54],[-3.32,2.44],[-3.27,2.93],[-3.47,2.78],[-3.42,2.87],[-3.49,2.33],[-3.58,2.36],[-3.6,2.73],[-3.67,2.91],[-3.73,2.13],[-3.8,2.53,2.64],[-3.82,3.03],[-3.06,3.25],[-3.19,3.27],[-3.22,3.42],[-3.33,3.57],[-3.35,3.34,3.93],[-3.29,3.79],[-3.37,4.02],[-2.86,3.67],[-3.01,3.81],[-3,4.02,4.35],[-2.69,3.87],[-2.75,4.01],[-2.91,4.25],[-2.72,4.33,4.59],[-2.56,4.38],[-2.41,4.03],
[-4.27,.04,.67],[-3.95,.31],[-3.83,.9],[-3.91,1.55],[-4.07,.77],[-4.03,1.04],[-4.17,1.02,1.69],[-4.23,.79],[-4.33,.81],[-4.48,.88],[-4.14,1.42],[-4.2,1.52],[-4.32,2.17],[-4.44,1.37],[-4.4,1.49,1.86],[-4.59,.38,.63],[-4.57,1.12],[-4.51,1.64,2.25],[-4.56,1.94],[-4.49,2.13],[-4.82,-.4],[-4.83,-.25],[-5.11,-.48,.91],[-4.7,.18],[-4.78,.14,.9],[-4.9,.16],[-4.75,.63],[-4.73,.79,1.92],[-4.68,1.12],[-4.62,1.62],[-4.67,1.78],[-4.96,.44,1.76,1.86],[-5.03,.32],[-4.98,.83],[-4.91,.95],[-4.84,1.55,2.07],[-4.88,1.65,2.17],[-5.12,.46],[-5.19,.18],[-5.17,.71],[-5.04,1.29],[-5.09,1.59],[-5.13,1.45],[-5.27,.51,1.12,1.69],[-5.3,.22],[-5.23,1.29],[-5.33,1.18],[-5.35,1.49],[-5.14,1.96],[-5.2,2.13],[-5.24,2.19],[-5.42,.26,.46],[-5.43,.7],[-5.31,.9],[-5.49,.18,.9,2.05],[-5.51,.36],[-5.54,-.11],[-5.56,.55],[-5.61,.66,1.7],[-5.67,.97],[-5.72,.88,1.37,1.72,2.27],[-5.58,1.47],[-5.59,2.02],[-5.76,1.18],[-5.81,1.36,2.35],[-5.91,.87],[-5.85,1.8,2.01],[-5.7,2.54],[-5.88,2.63],[-6,1.83],[-6.11,1.49],[-6.25,.5],[-6.24,.77],[-6.29,1.12],[-6.22,1.8],[-6.15,2.19],[-6.21,2.21],[-6.2,2.43],[-6.12,2.5],[-6.09,2.87],[-6.41,1.76],[-6.53,1.84],
[-3.56,4.62,5.0,5.34,5.66,6.1],[-3.66,4.08,4.42,4.76,5.08,5.44,5.8],[-3.74,3.32,3.62,4.26,4.56,4.9,5.22,5.56],[-3.82,3.9,4.28,4.62,4.98,5.3],[-3.9,3.44,3.76,4.1,4.46,4.8,5.12],[-3.98,3.06,3.5,3.86,4.18,4.52,4.84],[-4.06,2.78,3.24,3.6,3.98,4.32,4.62],[-4.14,2.9,3.36,3.72,4.06,4.4],[-4.22,2.96,3.3,3.68,4.02,4.34],[-4.3,2.72,3.08,3.4,3.78,4.12],[-4.38,3.16,3.5,3.84,4.18],[-4.46,2.5,2.94,3.22,3.58,3.92,4.26],[-4.54,2.72,3.02,3.34,3.68,4.0],[-4.62,2.44,2.74,3.08,3.42,3.76],[-4.7,2.84,3.16,3.5,3.8],[-4.78,2.52,2.92,3.24,3.56],[-4.86,2.84,3.16,3.46,3.76],[-4.94,2.56,2.86,3.14,3.44,3.72],[-5.02,2.66,2.96,3.22,3.5],[-5.1,2.44,2.7,3.04,3.28]];

const flat=rows=>rows.flatMap(([y,...xs])=>xs.map(x=>({x,y})));
const blob=(pts,fill)=>Plot.line(pts,{x:d=>d[0],y:d=>d[1],curve:"catmull-rom-closed",fill,fillOpacity:.3,stroke:"none"});
const dots=(rows,fill)=>Plot.dot(flat(rows),{x:"x",y:"y",r:3.8,fill,stroke:"none"});
const tf=d3.format(".1f");

const chart=Plot.plot({
  width:1373,height:913,marginLeft:86,marginTop:12,marginRight:0,marginBottom:56,
  style:{background:"#fff",fontFamily:"DejaVu Sans",overflow:"visible"},
  x:{domain:xDomain},y:{domain:yDomain},
  marks:[
    dots(tealRows,"#00BCC0"),dots(redRows,"#FF7B70"),dots(blueRows,"#84CFEC"),dots(yellowRows,"#FFD800"),
    Plot.text(labels,{x:d=>d[1],y:d=>d[2],text:d=>d[0],fontSize:54.5,fill:"#000",textAnchor:"middle",lineAnchor:"middle"}),
    blob(greenBlob,"#00AC4E"),blob(redBlob,"#FF0000"),blob(blueBlob,"#4B73C0"),blob(yellowBlob,"#FCC010"),
    Plot.ruleX([xDomain[0]],{strokeWidth:2.8,stroke:"#000"}),
    Plot.ruleY([yDomain[0],yDomain[1]],{strokeWidth:2.8,stroke:"#000"}),
    Plot.axisX({ticks:xTicks,tickFormat:tf,tickSize:13,tickPadding:16,fontSize:30.5,strokeWidth:2.8,label:null,stroke:"#000",fill:"#000"}),
    Plot.axisY({ticks:yTicks,tickFormat:d3.format("d"),tickSize:13,tickPadding:15,fontSize:30.5,strokeWidth:2.8,label:null,stroke:"#000",fill:"#000"})
  ]
});
document.getElementById("chart").appendChild(chart);
</script></body></html>
